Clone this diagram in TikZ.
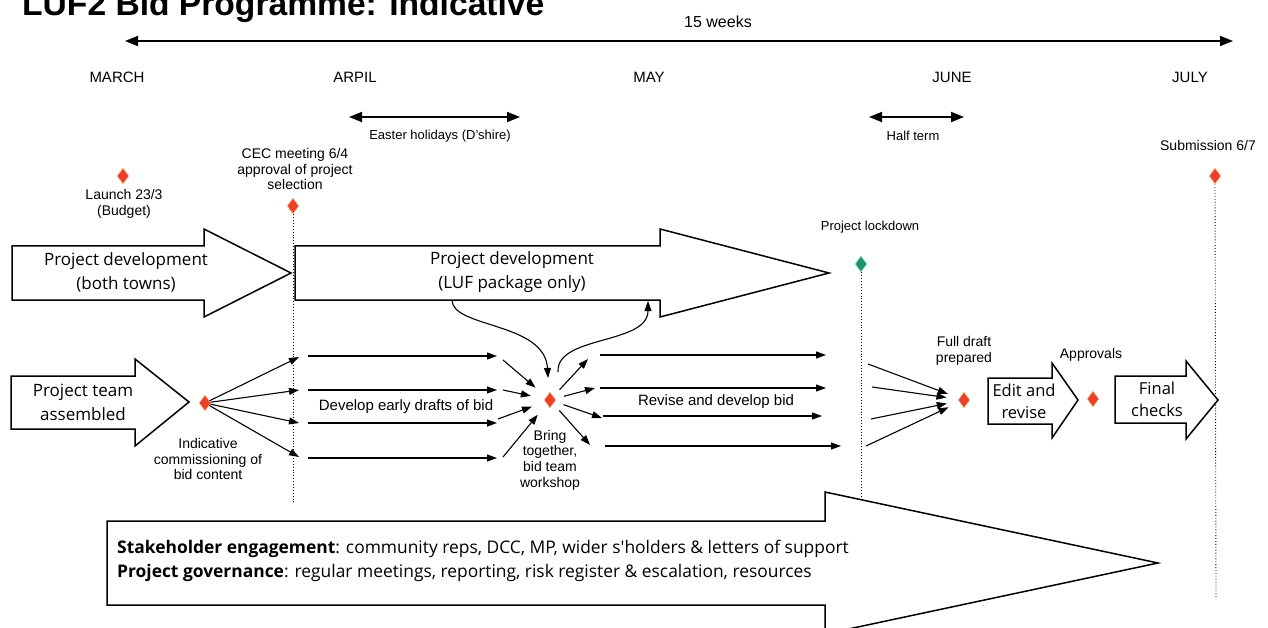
\documentclass[tikz,border=0pt]{standalone}
\usepackage{fontspec}
\setmainfont{Liberation Sans}
\newfontfamily\opsans{Open Sans}
\usetikzlibrary{arrows.meta,shapes.geometric}

\definecolor{msred}{RGB}{232,64,44}
\definecolor{msgreen}{RGB}{22,150,108}

\tikzset{
  blockarrow/.style={draw=black, line width=1.5pt, fill=white, line join=miter},
  lbl/.style={font=\fontsize{14}{15.6}\selectfont, align=center, inner sep=0pt},
  small/.style={font=\fontsize{13}{15}\selectfont, align=center, inner sep=0pt},
  month/.style={font=\fontsize{15}{18}\selectfont, inner sep=0pt},
  boxtxt/.style={font=\opsans\fontsize{17}{24}\selectfont, align=center, inner sep=0pt},
  milestone/.style={diamond, fill=msred, draw=orange!45, line width=0.6pt,
    minimum width=12pt, minimum height=16pt, inner sep=0pt},
  flow/.style={-{Triangle[length=10pt,width=7pt]}, line width=1.1pt},
  span/.style={{Triangle[length=13pt,width=10pt]}-{Triangle[length=13pt,width=10pt]}, line width=1.8pt},
  marker/.style={dotted, line width=0.9pt},
}

\begin{document}
\begin{tikzpicture}[x=1pt,y=-1pt]
  \fill[white] (0,0) rectangle (1268,628);
  \useasboundingbox (0,0) rectangle (1268,628);
  \clip (0,0) rectangle (1268,628);

  \node[anchor=base west, inner sep=0pt, font=\bfseries\fontsize{33.6}{36}\selectfont]
    (title) at (22,16) {LUF2 Bid Programme: Indicative};

  % timeline
  \coordinate (wkL) at (125,41);
  \coordinate (wkR) at (1233,41);
  \draw[span] (wkL) -- (wkR);
  \node[font=\fontsize{16}{18}\selectfont, inner sep=0pt] (weeks) at (718,22) {15 weeks};

  \node[month] (march) at (117,77) {MARCH};
  \node[month] (april) at (355,77) {ARPIL};
  \node[month] (may)   at (649,77) {MAY};
  \node[month] (june)  at (952,77) {JUNE};
  \node[month] (july)  at (1190,77) {JULY};

  \coordinate (eastL) at (349,117);
  \coordinate (eastR) at (520,117);
  \draw[span] (eastL) -- (eastR);
  \node[small] (easter) at (440,136) {Easter holidays (D'shire)};
  \coordinate (halfL) at (869,117);
  \coordinate (halfR) at (964,117);
  \draw[span] (halfL) -- (halfR);
  \node[small] (half) at (913,136) {Half term};

  % milestones
  \node[milestone] (launch) at (123,176) {};
  \node[lbl] (launchtxt) at (124,204) {Launch 23/3\\(Budget)};
  \node[milestone] (cec) at (293,206) {};
  \node[lbl] (cectxt) at (295,169) {CEC meeting 6/4\\approval of project\\selection};
  \node[milestone] (sub) at (1215,176) {};
  \node[lbl] (subtxt) at (1208,145) {Submission 6/7};
  \node[milestone, fill=msgreen, draw=msgreen!40] (lock) at (861,264) {};
  \node[small] (locktxt) at (870,227) {Project lockdown};

  \coordinate (cecend) at (293,503);
  \coordinate (lockend) at (861,497);
  \coordinate (subend) at (1216,598);
  \draw[marker] (cec.south) -- (cecend);
  \draw[marker] (lock.south) -- (lockend);
  \draw[marker] (sub.south) -- (subend);

  % block arrows
  \draw[blockarrow] (12,246) -- (204,246) -- (204,229) -- (291,273) -- (204,317) -- (204,300) -- (12,300) -- cycle;
  \node[boxtxt] (devboth) at (126,272) {Project development\\(both towns)};
  \draw[blockarrow] (295,246) -- (660,246) -- (660,229) -- (829,273) -- (660,317) -- (660,300) -- (295,300) -- cycle;
  \node[boxtxt] (devluf) at (512,272) {Project development\\(LUF package only)};
  \draw[blockarrow] (11,376) -- (135,376) -- (135,359) -- (189,402) -- (135,446) -- (135,429) -- (11,429) -- cycle;
  \node[boxtxt] (team) at (83,402) {Project team\\assembled};
  \draw[blockarrow] (988,378) -- (1052,378) -- (1052,363) -- (1078,400) -- (1052,438) -- (1052,424) -- (988,424) -- cycle;
  \node[boxtxt, font=\opsans\fontsize{16.5}{22}\selectfont] (edit) at (1024,401) {Edit and\\revise};
  \draw[blockarrow] (1115,376) -- (1186,376) -- (1186,361) -- (1218,400) -- (1186,439) -- (1186,423) -- (1115,423) -- cycle;
  \node[boxtxt, font=\opsans\fontsize{16.5}{22}\selectfont] (final) at (1157,399) {Final\\checks};
  \draw[blockarrow] (107,521) -- (825,521) -- (825,492) -- (1158,563) -- (825,634) -- (825,605) -- (107,605) -- cycle;
  \node[boxtxt, anchor=west, align=left, font=\opsans\fontsize{17.4}{24}\selectfont] (gov) at (117,561)
    {\textbf{Stakeholder engagement}: community reps, DCC, MP, wider s'holders \& letters of support\\
     \textbf{Project governance}: regular meetings, reporting, risk register \& escalation, resources};

  % drafting
  \node[milestone] (ind) at (205,403) {};
  \node[lbl] (indtxt) at (208,459) {Indicative\\commissioning of\\bid content};
  \foreach \y [count=\i] in {357,390,423,457}{
    \coordinate (fan\i) at (299,\y);
    \draw[flow] (ind) -- (fan\i);
  }
  \foreach \y [count=\i] in {356,390,423,458}{
    \coordinate (ds\i) at (308,\y);
    \coordinate (de\i) at (497,\y);
    \draw[flow] (ds\i) -- (de\i);
  }
  \node[font=\fontsize{15}{18}\selectfont, inner sep=0pt] (early) at (406,407) {Develop early drafts of bid};

  \node[milestone] (bring) at (550,400) {};
  \node[lbl] (bringtxt) at (550,460) {Bring\\together,\\bid team\\workshop};
  \foreach \x/\y [count=\i] in {503/360,503/390,498/419,503/457}{
    \coordinate (bi\i) at (\x,\y);
    \draw[flow, shorten >=14pt] (bi\i) -- (bring);
  }
  \foreach \x/\y [count=\i] in {588/359,595/388,602/418,590/445}{
    \coordinate (bo\i) at (\x,\y);
    \draw[flow, shorten <=9pt] (bring) -- (bo\i);
  }
  \coordinate (lufout) at (452,300);
  \coordinate (bringin) at (548,378);
  \draw[flow] (lufout) .. controls (452,328) and (545,322) .. (bringin);
  \coordinate (bringup) at (558,372);
  \coordinate (lufin) at (648,301);
  \draw[flow] (bringup) .. controls (556,335) and (648,345) .. (lufin);

  \foreach \a/\b/\y [count=\i] in {600/826/355,600/826/388,603/822/416,605/841/446}{
    \coordinate (rs\i) at (\a,\y);
    \coordinate (re\i) at (\b,\y);
    \draw[flow] (rs\i) -- (re\i);
  }
  \node[font=\fontsize{15}{18}\selectfont, inner sep=0pt] (revise) at (716,402) {Revise and develop bid};

  \node[milestone] (full) at (964,400) {};
  \node[lbl] (fulltxt) at (964,351) {Full draft\\prepared};
  \foreach \x/\y [count=\i] in {868/364,872/387,871/419,866/446}{
    \coordinate (fi\i) at (\x,\y);
    \draw[flow, shorten >=12pt] (fi\i) -- (full);
  }
  \node[milestone] (appr) at (1093,399) {};
  \node[lbl] (apprtxt) at (1091,355) {Approvals};
\end{tikzpicture}
\end{document}
